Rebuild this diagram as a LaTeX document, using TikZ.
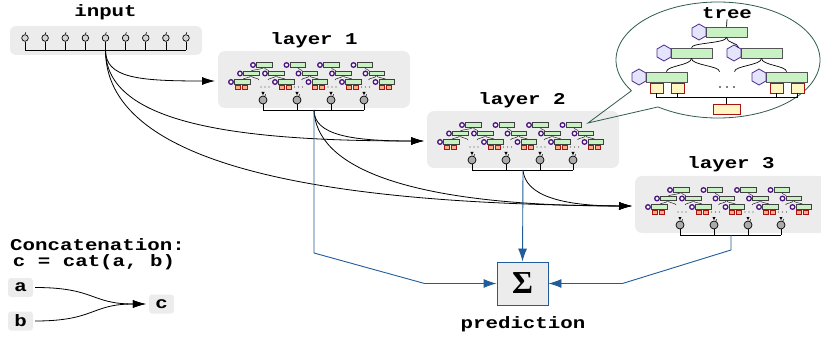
\documentclass[tikz,border=0pt]{standalone}
\usepackage{fontspec}
\newfontfamily\monob{Liberation Mono}[FakeStretch=1.26]
\newfontfamily\serifb{Liberation Serif}
\usetikzlibrary{arrows.meta,shapes.geometric}
\definecolor{boxgray}{HTML}{ECECEC}
\definecolor{predblue}{HTML}{1F5C99}
\definecolor{hexfill}{HTML}{E4E4FA}
\definecolor{hexdraw}{HTML}{4B2A8C}
\definecolor{barfill}{HTML}{C8F2C4}
\definecolor{bardraw}{HTML}{555555}
\definecolor{leaffill}{HTML}{FFF6C4}
\definecolor{leafdraw}{HTML}{A81212}
\definecolor{bubblegreen}{HTML}{2E5C4C}
\definecolor{minipurple}{HTML}{4B1482}
\definecolor{neurongray}{HTML}{ABABAB}
\tikzset{
  lbl/.style={font=\monob\bfseries\fontsize{16.5}{20}\selectfont, inner sep=0pt},
  layerbox/.style={rectangle, rounded corners=7pt, fill=boxgray, minimum width=192pt, minimum height=57pt, inner sep=0pt},
  smallbox/.style={rectangle, rounded corners=3pt, fill=boxgray, minimum width=25pt, minimum height=19pt, inner sep=0pt, font=\monob\bfseries\fontsize{16.5}{20}\selectfont},
  conn/.style={draw=black, line width=0.8pt, -{Latex[length=13pt,width=8pt]}},
  blueconn/.style={draw=predblue, line width=0.9pt, -{Latex[length=13pt,width=9pt]}},
  neuron/.style={circle, draw=black, line width=0.7pt, fill=neurongray!50, minimum size=6.6pt, inner sep=0pt},
  outneuron/.style={draw=black, line width=0.7pt, fill=neurongray},
  wire/.style={draw=black, line width=0.7pt},
  minicurve/.style={draw=black!85, line width=0.5pt},
  minibar/.style={fill=barfill, draw=black!75, line width=0.7pt},
  minicirc/.style={fill=white, draw=minipurple, line width=1.3pt},
  minired/.style={fill=leaffill!70!red, draw=leafdraw, line width=1pt},
  hexn/.style={regular polygon, regular polygon sides=6, shape border rotate=30, minimum size=16pt, inner sep=0pt, draw=hexdraw, line width=0.8pt, fill=hexfill},
  barn/.style={rectangle, minimum width=41pt, minimum height=10pt, inner sep=0pt, draw=bardraw, line width=0.7pt, fill=barfill},
  leafn/.style={rectangle, minimum width=13pt, minimum height=10pt, inner sep=0pt, draw=leafdraw, line width=0.8pt, fill=leaffill},
  treeline/.style={draw=black, line width=0.7pt},
  sigbox/.style={rectangle, minimum width=51pt, minimum height=43pt, inner sep=0pt, fill=boxgray, draw=predblue, line width=0.9pt},
  bubble/.style={draw=bubblegreen, line width=0.8pt},
  pics/mininode/.style={code={
    \draw[minibar] (3.5,-2.2) rectangle (19,2.2);
    \draw[minicirc] (0,0) circle[radius=2.3pt];
  }},
  pics/minigc/.style={code={
    \draw[minired] (4,3.2) rectangle (9,7.6);
    \draw[minired] (11,3.2) rectangle (16,7.6);
    \draw[minibar] (3.5,-2.2) rectangle (19,2.2);
    \draw[minicirc] (0,0) circle[radius=2.3pt];
  }},
  pics/layercontent/.style={code={
    \node[layerbox] (-box) at (96,28.5) {};
    \coordinate (-in) at (-3,30);
    \coordinate (-out) at (96,59);
    \foreach \r in {35,68.5,102,135.5}{
      \draw[minicurve] (\r+11,16) .. controls +(0,2.5) and +(0,-2) .. (\r+16,20.5);
      \draw[minicurve] (\r+23,24.5) .. controls +(0,2.5) and +(0,-2) .. (\r+33,29);
      \draw[minicurve] (\r+23,24.5) .. controls +(0,2.5) and +(0,-2) .. (\r+15,29);
    }
    \draw[minicurve] (46,16) .. controls +(0,2.5) and +(0,-2) .. (33,20.5);
    \draw[minicurve] (33,24.5) .. controls +(0,2.5) and +(0,-2) .. (24,29);
    \draw[minicurve] (33,24.5) .. controls +(0,2.5) and +(0,-2) .. (41,29);
    \foreach \r in {35,68.5,102,135.5}{
      \pic at (\r,14) {mininode};
      \pic at (\r+12,22.5) {mininode};
      \pic at (\r+22,31) {minigc};
      \foreach \d in {8,12,16} \fill[black!70] (\r+\d,36) circle[radius=0.7pt];
    }
    \pic at (22,22.5) {mininode};
    \pic at (13,31) {minigc};
    \draw[wire] (45,59) -- (146,59);
    \foreach \x in {45,79,113,146}{
      \draw[wire] (\x,53) -- (\x,59);
      \fill (\x-1.6,41) -- (\x+1.6,41) -- (\x,44) -- cycle;
      \draw[outneuron] (\x,49) circle[radius=4pt];
      \draw[line width=0.6pt] (\x+1.8,45.4) -- (\x+2.6,43.4);
    }
  }}
}
\begin{document}
\begin{tikzpicture}[x=1pt,y=-1pt]
\useasboundingbox (0,0) rectangle (821,339);

% ---------- input ----------
\node[lbl, anchor=base] (inlbl) at (105.5,16.5) {input};
\node[rectangle, rounded corners=6pt, fill=boxgray, minimum width=192pt, minimum height=29pt, inner sep=0pt] (inbox) at (106,40.5) {};
\coordinate (inout) at (105.5,50);
\draw[wire] (25,50) -- (186,50);
\foreach \i in {0,...,8}{
  \pgfmathsetmacro\xx{25+20.125*\i}
  \node[neuron] (in\i) at (\xx,38) {};
  \draw[wire] (in\i.south) -- (\xx,50);
  \draw[line width=0.6pt] (in\i.north) -- ++(0.8,-2);
}

% ---------- layers ----------
\pic (L1) at (218,51) {layercontent};
\pic (L2) at (427,111) {layercontent};
\pic (L3) at (635,176) {layercontent};
\node[lbl, anchor=base] (L1lbl) at (314,45) {layer 1};
\node[lbl, anchor=base] (L2lbl) at (522,105) {layer 2};
\node[lbl, anchor=base] (L3lbl) at (731,168) {layer 3};

% ---------- concatenation connectors ----------
\draw[conn] (inout) .. controls +(0,28) and +(-77,0) .. (L1-in);
\draw[conn] (inout) .. controls +(0,75) and +(-183,0) .. (L2-in);
\draw[conn] (inout) .. controls +(0,110) and +(-332,-2) .. (L3-in);
\draw[conn] (L1-out) .. controls +(0,25) and +(-73,0) .. (L2-in);
\draw[conn] (L1-out) .. controls +(2,55) and +(-232,0) .. (L3-in);
\draw[conn] (L2-out) .. controls +(2,25) and +(-72,0) .. (L3-in);

% ---------- prediction ----------
\node[sigbox] (sig) at (522.5,283.5) {\serifb\bfseries\fontsize{32}{32}\selectfont Σ};
\node[lbl, anchor=base] (predlbl) at (523,328) {prediction};
\draw[blueconn] (L1-out) -- ++(0,143) -- ([xshift=-72pt]sig.west) -- (sig.west);
\draw[blueconn] (L2-out) -- (sig.north);
\draw[blueconn] (L3-out) -- ++(0,15) -- ([xshift=74pt]sig.east) -- (sig.east);

% ---------- bubble ----------
\fill[white] (718,60) ellipse [x radius=102pt, y radius=58pt];
\draw[bubble] plot[domain=148:486, samples=240] ({718+102*cos(\x)},{60+58*sin(\x)}) -- (588,123) -- (631.5,90.7);

\node[lbl, anchor=base] (treelbl) at (727,19) {tree};
\node[barn] (bR) at (726.5,32) {};
\node[hexn] (hR) at (699,32) {};
\node[barn] (bC1) at (691.5,53) {};
\node[hexn] (hC1) at (664,53) {};
\node[barn] (bC2) at (761.5,53) {};
\node[hexn] (hC2) at (734,53) {};
\node[barn] (bG1) at (666.5,77) {};
\node[hexn] (hG1) at (639,77) {};
\node[barn] (bG2) at (786.5,77) {};
\node[hexn] (hG2) at (759,77) {};
\node[leafn] (l1) at (656.5,88) {};
\node[leafn] (l2) at (677.5,88) {};
\node[leafn] (l3) at (776.5,88) {};
\node[leafn] (l4) at (797.5,88) {};
\node[leafn, minimum width=27pt] (lsum) at (726.5,109) {};
\draw[treeline] (treelbl.south) -- (bR.north);
\draw[treeline] (bR.south) .. controls +(0,6) and +(0,-5) .. (bC1.north);
\draw[treeline] (bR.south) .. controls +(0,6) and +(0,-5) .. ([xshift=-23pt]bC2.north);
\draw[treeline] (bC1.south) .. controls +(0,7) and +(0,-6) .. (bG1.north);
\draw[treeline] (bC1.south) .. controls +(0,7) and +(0,-6) .. ([xshift=-7pt]lsum.north |- bG1.north);
\draw[treeline] (bC2.south) .. controls +(0,7) and +(0,-6) .. ([xshift=8pt]lsum.north |- bG2.north);
\draw[treeline] (bC2.south) .. controls +(0,7) and +(0,-6) .. (bG2.north);
\draw[treeline] (l1.south) -- ++(0,4) -- ++(141,0) -- (l4.south);
\draw[treeline] (l2.south) -- ++(0,4);
\draw[treeline] (l3.south) -- ++(0,4);
\draw[treeline] (lsum.north) -- ++(0,-7);
\foreach \x in {720,727,734} \fill (\x,87) circle[radius=0.9pt];

% ---------- legend ----------
\node[lbl, anchor=base] (concat) at (97.5,250) {Concatenation:};
\node[lbl, anchor=base] (catf) at (94,266.5) {c = cat(a, b)};
\node[smallbox] (na) at (20.5,287.5) {a};
\node[smallbox] (nb) at (20.5,321) {b};
\node[smallbox] (nc) at (161.5,304) {c};
\draw[conn] ([xshift=2pt]na.east) .. controls +(60,0) and +(-55,0) .. ([xshift=-3pt]nc.west);
\draw[conn] ([xshift=2pt]nb.east) .. controls +(60,0) and +(-55,0) .. ([xshift=-3pt]nc.west);
\end{tikzpicture}
\end{document}
